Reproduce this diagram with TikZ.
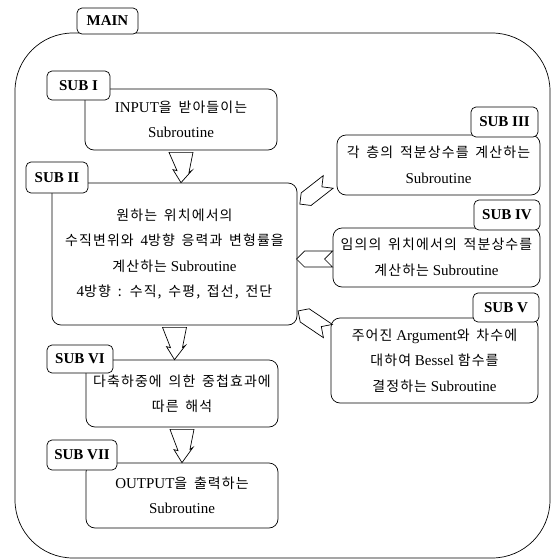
\documentclass[tikz,border=0pt]{standalone}
\usepackage{fontspec}
\setmainfont{Liberation Serif}
\newfontfamily\kr{Noto Sans CJK KR}[Scale=0.93, LetterSpace=8, WordSpace=1.6]
\usetikzlibrary{calc,shapes.symbols}

\tikzset{
    box/.style={draw, rounded corners=9, align=center, inner sep=0},
    tab/.style={draw, fill=white, rounded corners=5, font=\fontsize{15}{18}\selectfont\bfseries, inner sep=0},
    sidearrow/.style={draw, fill=white, shape=signal, signal to=west, signal from=east,
        minimum width=36, minimum height=16, inner sep=0},
    fatarrow/.style={draw, fill=white, line join=miter}
}

\begin{document}
\begin{tikzpicture}[x=1pt, y=-1pt, line width=0.7pt, font=\fontsize{15}{25.5}\selectfont]

        \useasboundingbox (0,0) rectangle (554,560);

        % Outer frame
        \node[draw, rounded corners=58, minimum width=535, minimum height=525, inner sep=0] (mainframe) at (282.5,295.5) {};

        % Left column
        \node[box, minimum width=192, minimum height=61] (sub1) at (181,119.5)
            {INPUT{\kr 을 받아들이는}\\Subroutine};
        \node[box, minimum width=245, minimum height=142] (sub2) at (174.5,254)
            {{\kr 원하는 위치에서의}\\{\kr 수직변위와 }4{\kr 방향 응력과 변형률을}\\{\kr 계산하는} Subroutine\\4{\kr 방향 : 수직, 수평, 접선, 전단}};
        \node[box, minimum width=192, minimum height=67] (sub6) at (182,393.5)
            {{\kr 다축하중에 의한 중첩효과에}\\{\kr 따른 해석}};
        \node[box, minimum width=192, minimum height=65] (sub7) at (182,495.5)
            {OUTPUT{\kr 을 출력하는}\\Subroutine};

        % Right column
        \node[box, minimum width=203, minimum height=60] (sub3) at (438.5,165)
            {{\kr 각 층의 적분상수를 계산하는}\\Subroutine};
        \node[box, minimum width=207, minimum height=59] (sub4) at (436.5,257.5)
            {{\kr 임의의 위치에서의 적분상수를}\\{\kr 계산하는} Subroutine};
        \node[box, minimum width=207, minimum height=85] (sub5) at (434.5,360.5)
            {{\kr 주어진} Argument{\kr 와 차수에}\\{\kr 대하여} Bessel {\kr 함수를}\\{\kr 결정하는} Subroutine};

        % Tabs
        \node[tab, minimum width=61, minimum height=26] (tmain) at (107.5,21) {MAIN};
        \node[tab, minimum width=63, minimum height=29] (t1) at (78.5,85.5) {SUB I};
        \node[tab, minimum width=62, minimum height=31] (t2) at (57,177.5) {SUB II};
        \node[tab, minimum width=66, minimum height=28] (t6) at (80,359) {SUB VI};
        \node[tab, minimum width=70, minimum height=30] (t7) at (82,455) {SUB VII};
        \node[tab, minimum width=67, minimum height=30] (t3) at (504.5,122) {SUB III};
        \node[tab, minimum width=66, minimum height=30] (t4) at (507,215) {SUB IV};
        \node[tab, minimum width=66, minimum height=29] (t5) at (506,307.5) {SUB V};

        % Down arrows
        \foreach \a/\b in {sub1/sub2, sub2/sub6, sub6/sub7}
            \draw[fatarrow] ($(\a.south)+(-12,2)$) -- ++(24,0) -- ++(-4,20) -- ++(3,-2)
                -- (\a.south |- \b.north) -- ++(-8,-13) -- ++(4,1) -- cycle;

        % Side arrows into SUB II
        \node[sidearrow, rotate=38] (a3) at (314,193) {};
        \node[sidearrow] (a4) at (314.5,259) {};
        \node[sidearrow, rotate=-34] (a5) at (313,321) {};

\end{tikzpicture}
\end{document}
